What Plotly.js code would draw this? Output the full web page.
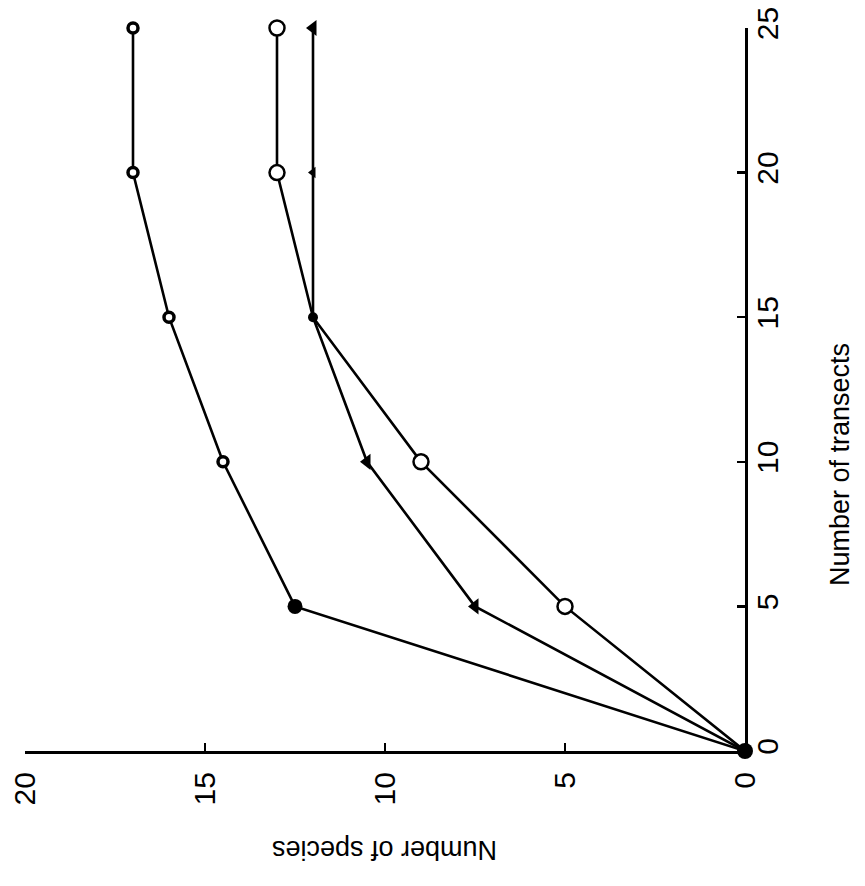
<!DOCTYPE html>
<html>
<head>
<meta charset="utf-8">
<script src="https://cdn.plot.ly/plotly-3.0.1.min.js"></script>
<style>
html,body{margin:0;padding:0;background:#fff;}
#chart{width:865px;height:886px;}
</style>
</head>
<body>
<div id="chart"></div>
<script>
// Number of transects (vertical axis in the rotated figure)
var transects = [0, 5, 10, 15, 20, 25];
// Number of species for each series
var seriesFilled = [0, 12.5, 14.5, 16, 17, 17];
var seriesOpen = [0, 5, 9, 12, 13, 13];
var seriesTriangle = [0, 7.5, 10.5, 12, 12, 12];

var speciesTicks = [0, 5, 10, 15, 20];
var transectTicks = [0, 5, 10, 15, 20, 25];
var xTitle = 'Number of transects';
var yTitle = 'Number of species';

var lineStyle = {color: '#000', width: 2.6};

var traces = [
  {
    x: seriesTriangle, y: transects, mode: 'lines+markers', cliponaxis: false,
    line: lineStyle,
    marker: {symbol: 'triangle-left', size: [0, 14, 14, 0, 10, 14], color: '#000', opacity: 1, line: {width: 0}},
    hoverinfo: 'skip', showlegend: false
  },
  {
    x: seriesOpen, y: transects, mode: 'lines+markers', cliponaxis: false,
    line: lineStyle,
    marker: {symbol: 'circle', size: [0, 15, 15, 0, 15, 15], color: '#fff', opacity: 1, line: {color: '#000', width: 2.5}},
    hoverinfo: 'skip', showlegend: false
  },
  {
    x: seriesFilled, y: transects, mode: 'lines+markers', cliponaxis: false,
    line: lineStyle,
    marker: {symbol: 'circle', size: [16, 15, 10, 10, 10, 10], color: ['#000', '#000', '#fff', '#fff', '#fff', '#fff'], opacity: 1, line: {color: '#000', width: [0, 0, 3.5, 3.5, 3.5, 3.5]}},
    hoverinfo: 'skip', showlegend: false
  },
  {
    x: [seriesTriangle[3]], y: [transects[3]], mode: 'markers', cliponaxis: false,
    marker: {symbol: 'circle', size: 10, color: '#000', opacity: 1, line: {width: 0}},
    hoverinfo: 'skip', showlegend: false
  }
];

var layout = {
  width: 865, height: 886,
  margin: {l: 25, r: 120, t: 28, b: 135},
  paper_bgcolor: '#fff', plot_bgcolor: '#fff',
  font: {family: 'Liberation Sans, Arial, sans-serif', color: '#000', size: 27},
  showlegend: false,
  xaxis: {
    range: [20, 0], tickvals: speciesTicks, ticktext: speciesTicks.map(String),
    tickangle: -90, ticks: 'inside', ticklen: 8, tickwidth: 2.5, tickcolor: '#000',
    showline: true, linewidth: 3, linecolor: '#000', showgrid: false, zeroline: false,
    ticklabelstandoff: 6, tickfont: {size: 30}
  },
  yaxis: {
    range: [0, 25], side: 'right', tickvals: transectTicks, ticktext: transectTicks.map(String),
    tickangle: -90, ticks: 'inside', ticklen: 8, tickwidth: 2.5, tickcolor: '#000',
    showline: true, linewidth: 3, linecolor: '#000', showgrid: false, zeroline: false,
    ticklabelstandoff: -6, tickfont: {size: 30}
  },
  annotations: [
    {text: yTitle, xref: 'paper', yref: 'paper', x: 0.5, y: -(850 - 751) / 723,
     xanchor: 'center', yanchor: 'middle', textangle: 180, showarrow: false, font: {size: 27}},
    {text: xTitle, xref: 'paper', yref: 'paper', x: (840 - 25) / 720, y: (751 - 465) / 723,
     xanchor: 'center', yanchor: 'middle', textangle: -90, showarrow: false, font: {size: 27}}
  ]
};

Plotly.newPlot('chart', traces, layout, {staticPlot: true, displayModeBar: false});
</script>
</body>
</html>
